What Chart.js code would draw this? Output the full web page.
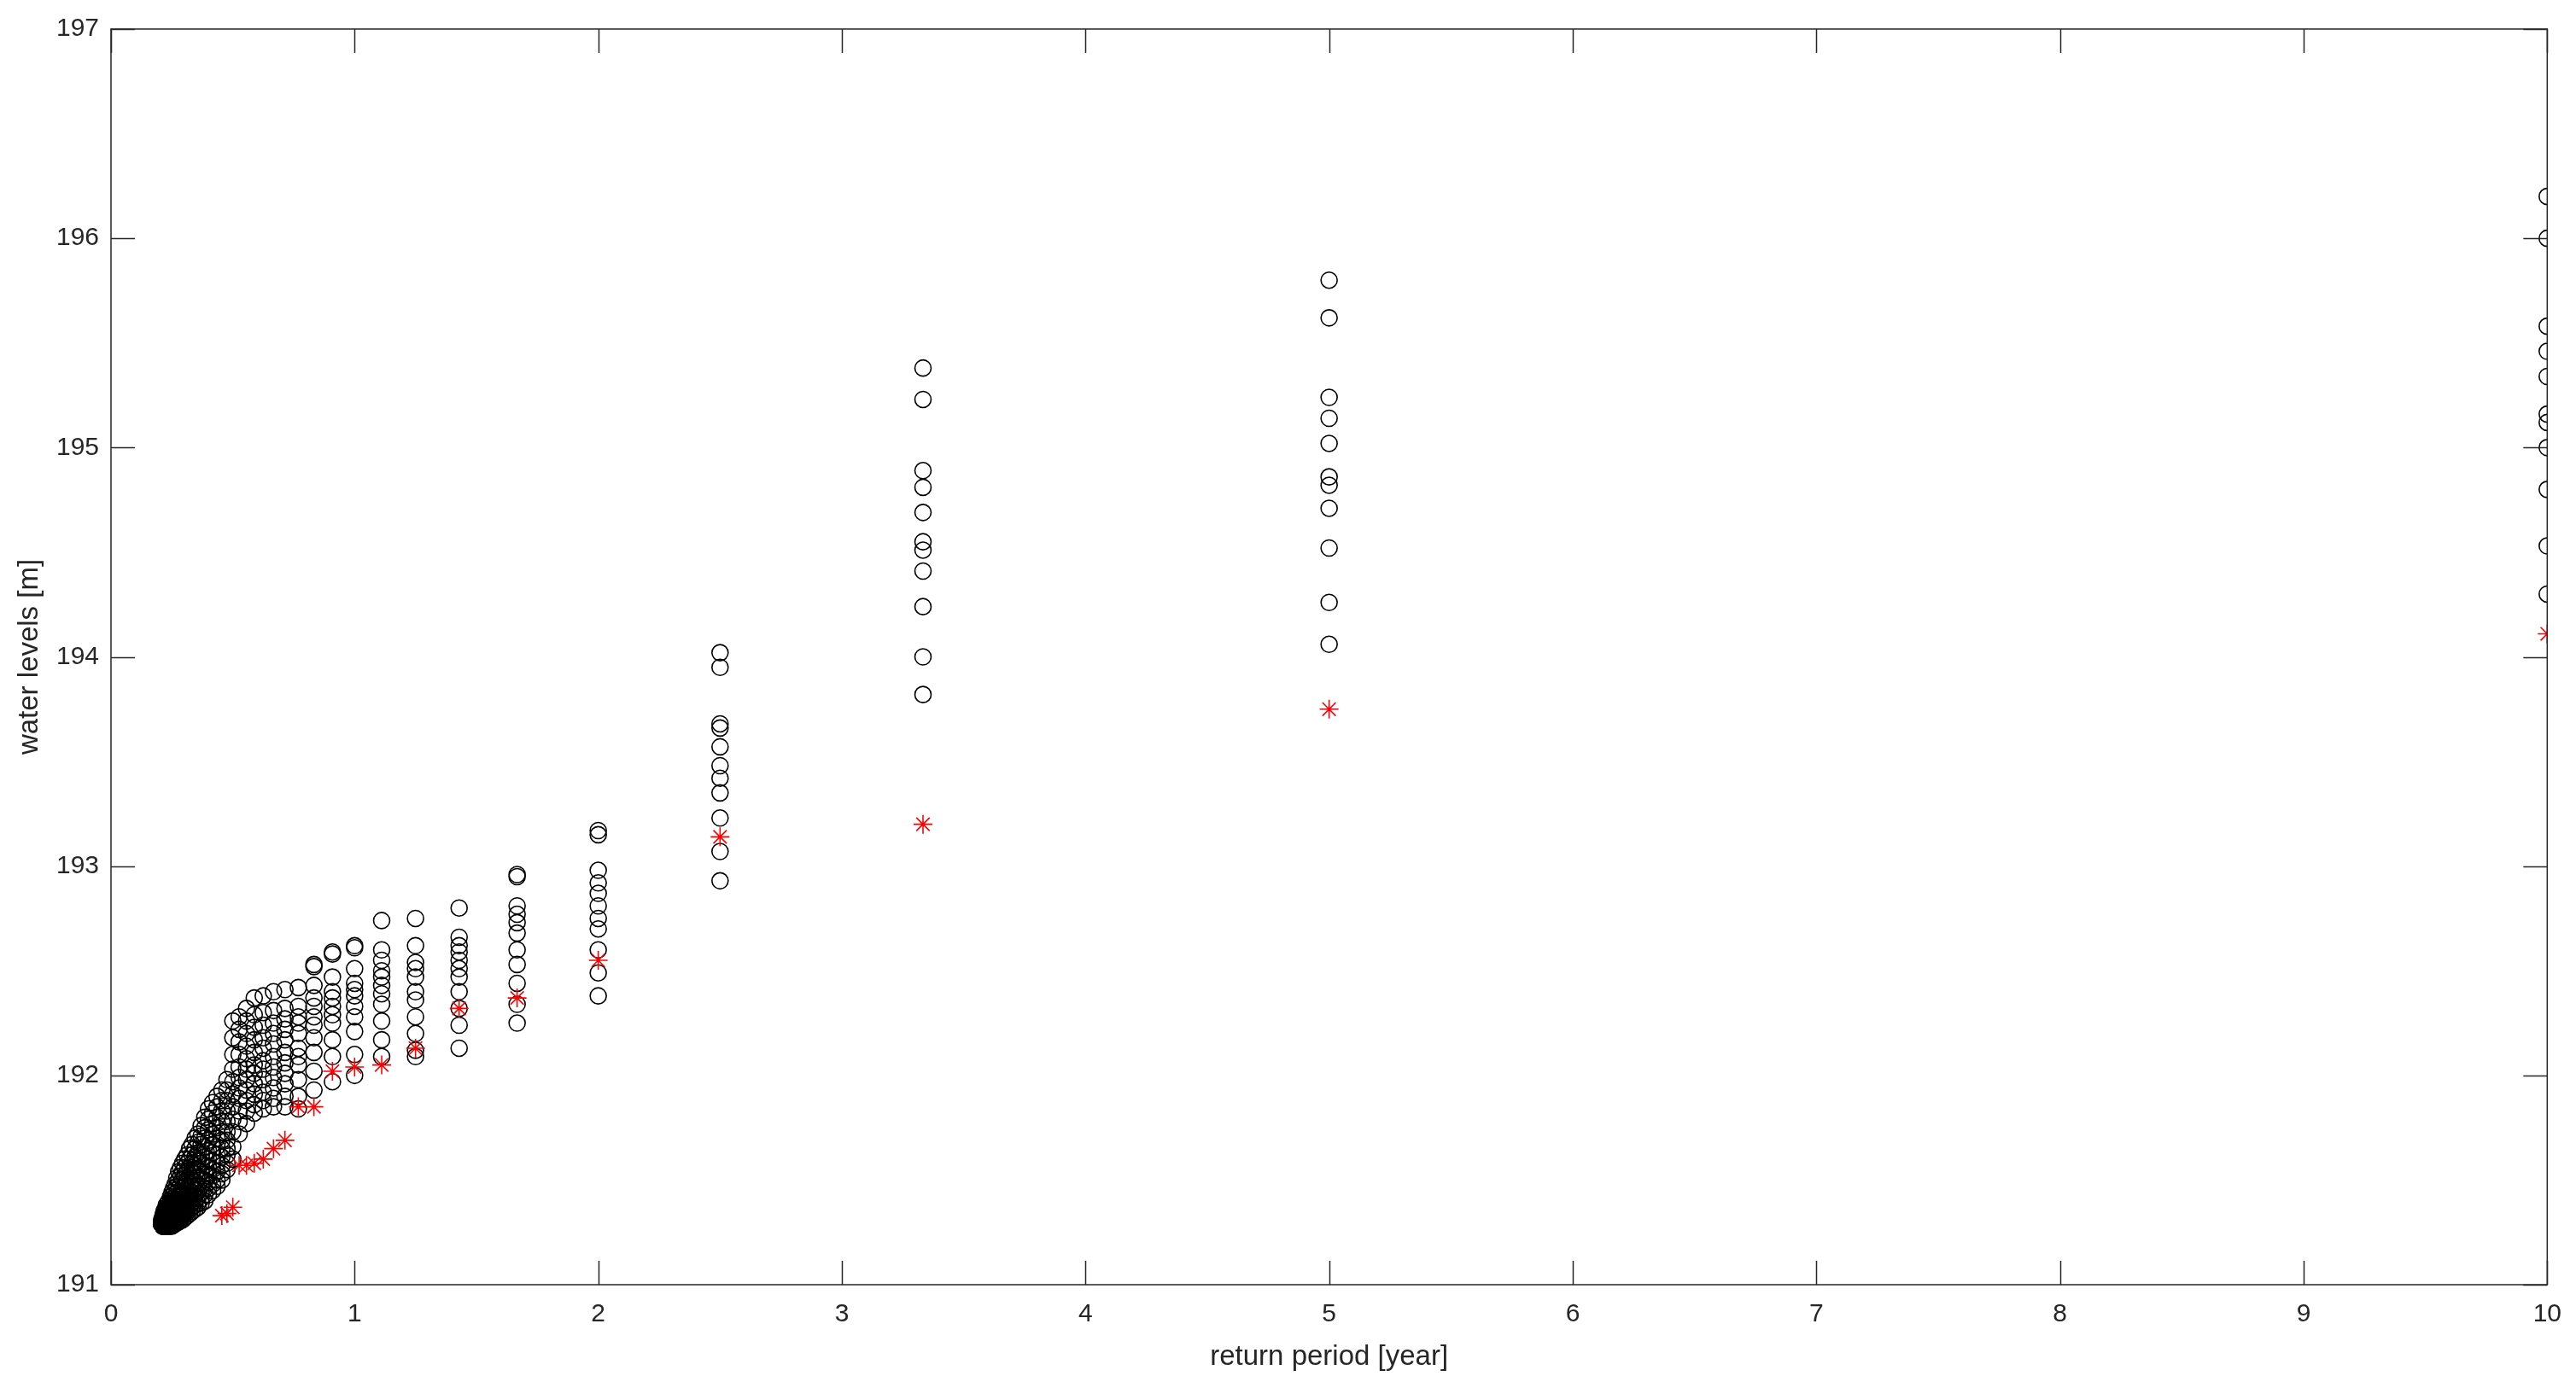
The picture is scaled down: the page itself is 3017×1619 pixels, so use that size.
<!DOCTYPE html>
<html>
<head>
<meta charset="utf-8">
<script src="https://cdn.jsdelivr.net/npm/chart.js@4.4.0/dist/chart.umd.min.js"></script>
<style>
  html, body { margin: 0; padding: 0; background: #fff; }
</style>
</head>
<body>
<canvas id="levelChart" width="3017" height="1619"></canvas>
<script>
// return periods [year], one column of markers each
const returnPeriods = [10, 5, 3.333, 2.5, 2, 1.667, 1.429, 1.25, 1.111, 1,
  0.909, 0.833, 0.769, 0.714, 0.667, 0.625, 0.588, 0.556, 0.526, 0.5,
  0.476, 0.455, 0.435, 0.417, 0.4, 0.385, 0.37, 0.357, 0.345, 0.333,
  0.323, 0.313, 0.303, 0.294, 0.286, 0.278, 0.27, 0.263, 0.256, 0.25,
  0.244, 0.238, 0.233, 0.227, 0.222, 0.217, 0.213, 0.208];

// simulated water levels [m] for every return period (black circles)
const simulatedLevels = [
  [196.20, 196.00, 195.58, 195.46, 195.34, 195.16, 195.12, 195.00, 194.80, 194.53, 194.30],
  [195.80, 195.62, 195.24, 195.14, 195.02, 194.86, 194.82, 194.71, 194.52, 194.26, 194.06],
  [195.38, 195.23, 194.89, 194.81, 194.69, 194.55, 194.51, 194.41, 194.24, 194.00, 193.82],
  [194.02, 193.95, 193.68, 193.66, 193.57, 193.48, 193.42, 193.35, 193.23, 193.07, 192.93],
  [193.17, 193.15, 192.98, 192.92, 192.87, 192.81, 192.75, 192.70, 192.60, 192.49, 192.38],
  [192.96, 192.95, 192.81, 192.77, 192.73, 192.68, 192.60, 192.53, 192.44, 192.34, 192.25],
  [192.80, 192.66, 192.62, 192.59, 192.55, 192.51, 192.47, 192.40, 192.32, 192.24, 192.13],
  [192.75, 192.62, 192.54, 192.51, 192.47, 192.40, 192.36, 192.28, 192.20, 192.12, 192.09],
  [192.74, 192.60, 192.55, 192.50, 192.47, 192.43, 192.39, 192.34, 192.26, 192.17, 192.09],
  [192.62, 192.61, 192.51, 192.44, 192.41, 192.38, 192.33, 192.28, 192.21, 192.10, 192.00],
  [192.59, 192.58, 192.47, 192.40, 192.37, 192.33, 192.29, 192.25, 192.17, 192.09, 191.97],
  [192.53, 192.52, 192.43, 192.37, 192.33, 192.28, 192.24, 192.18, 192.11, 192.02, 191.93],
  [192.42, 192.33, 192.28, 192.25, 192.20, 192.13, 192.09, 192.05, 191.98, 191.90, 191.84],
  [192.41, 192.32, 192.27, 192.22, 192.17, 192.11, 192.06, 192.01, 191.96, 191.90, 191.85],
  [192.40, 192.31, 192.25, 192.20, 192.15, 192.09, 192.04, 191.99, 191.94, 191.89, 191.85],
  [192.38, 192.30, 192.24, 192.18, 192.13, 192.07, 192.03, 191.98, 191.92, 191.88, 191.84],
  [192.37, 192.29, 192.23, 192.17, 192.11, 192.05, 192.01, 191.96, 191.91, 191.86, 191.82],
  [192.32, 192.26, 192.20, 192.14, 192.08, 192.03, 191.98, 191.93, 191.88, 191.83, 191.77],
  [192.28, 192.22, 192.16, 192.10, 192.04, 191.99, 191.94, 191.89, 191.83, 191.78, 191.72],
  [192.26, 192.18, 192.10, 192.03, 191.97, 191.91, 191.85, 191.79, 191.73, 191.66, 191.60],
  [191.98, 191.93, 191.88, 191.83, 191.78, 191.73, 191.69, 191.65, 191.62, 191.58, 191.55],
  [191.93, 191.88, 191.83, 191.78, 191.73, 191.69, 191.65, 191.61, 191.57, 191.53, 191.50],
  [191.90, 191.85, 191.80, 191.75, 191.70, 191.66, 191.62, 191.58, 191.54, 191.50, 191.47],
  [191.87, 191.82, 191.77, 191.72, 191.67, 191.63, 191.59, 191.55, 191.52, 191.48, 191.45],
  [191.84, 191.79, 191.74, 191.69, 191.64, 191.60, 191.56, 191.52, 191.49, 191.46, 191.43],
  [191.80, 191.75, 191.70, 191.66, 191.61, 191.57, 191.53, 191.50, 191.46, 191.43, 191.40],
  [191.76, 191.71, 191.67, 191.62, 191.58, 191.54, 191.50, 191.47, 191.44, 191.41, 191.39],
  [191.72, 191.68, 191.63, 191.59, 191.55, 191.51, 191.48, 191.45, 191.42, 191.39, 191.37],
  [191.70, 191.65, 191.61, 191.57, 191.53, 191.49, 191.46, 191.43, 191.40, 191.38, 191.36],
  [191.67, 191.62, 191.58, 191.54, 191.50, 191.47, 191.44, 191.41, 191.39, 191.37, 191.35],
  [191.65, 191.60, 191.56, 191.52, 191.48, 191.45, 191.42, 191.40, 191.38, 191.36, 191.34],
  [191.62, 191.58, 191.54, 191.50, 191.46, 191.43, 191.41, 191.38, 191.36, 191.35, 191.33],
  [191.60, 191.56, 191.52, 191.48, 191.45, 191.42, 191.39, 191.37, 191.35, 191.34, 191.32],
  [191.58, 191.54, 191.50, 191.46, 191.43, 191.40, 191.38, 191.36, 191.34, 191.33, 191.31],
  [191.56, 191.52, 191.48, 191.44, 191.41, 191.39, 191.37, 191.35, 191.33, 191.32, 191.31],
  [191.54, 191.50, 191.46, 191.42, 191.40, 191.37, 191.35, 191.34, 191.32, 191.31, 191.30],
  [191.51, 191.47, 191.44, 191.41, 191.38, 191.36, 191.34, 191.33, 191.32, 191.31, 191.30],
  [191.48, 191.45, 191.42, 191.39, 191.37, 191.35, 191.33, 191.32, 191.31, 191.30, 191.29],
  [191.46, 191.43, 191.40, 191.38, 191.36, 191.34, 191.32, 191.31, 191.30, 191.30, 191.29],
  [191.44, 191.41, 191.39, 191.36, 191.35, 191.33, 191.32, 191.31, 191.30, 191.29, 191.28],
  [191.42, 191.39, 191.37, 191.35, 191.34, 191.32, 191.31, 191.30, 191.29, 191.29, 191.28],
  [191.40, 191.38, 191.36, 191.34, 191.33, 191.31, 191.30, 191.30, 191.29, 191.28, 191.28],
  [191.39, 191.37, 191.35, 191.33, 191.32, 191.31, 191.30, 191.29, 191.29, 191.28, 191.28],
  [191.38, 191.36, 191.34, 191.32, 191.31, 191.30, 191.29, 191.29, 191.28, 191.28, 191.28],
  [191.36, 191.34, 191.33, 191.32, 191.31, 191.30, 191.29, 191.29, 191.28, 191.28, 191.28],
  [191.35, 191.33, 191.32, 191.31, 191.30, 191.30, 191.29, 191.29, 191.28, 191.28, 191.28],
  [191.33, 191.32, 191.31, 191.30, 191.30, 191.29, 191.29, 191.28, 191.28, 191.28, 191.28],
  [191.31, 191.30, 191.30, 191.30, 191.29, 191.29, 191.29, 191.29, 191.29, 191.29, 191.29],
];

// observed levels [m] (red stars), first 22 return periods
const observedLevels = [194.11, 193.75, 193.20, 193.14, 192.55, 192.37, 192.32, 192.13,
  192.05, 192.04, 192.02, 191.85, 191.85, 191.69, 191.65, 191.60, 191.58, 191.57,
  191.57, 191.37, 191.34, 191.33];

const xTicks = [0, 1, 2, 3, 4, 5, 6, 7, 8, 9, 10];
const yTicks = [191, 192, 193, 194, 195, 196, 197];

const axisColor = "#262626";
const fontFamily = "'Liberation Sans', Arial, Helvetica, sans-serif";

const circlePoints = [];
simulatedLevels.forEach((col, i) => {
  col.forEach(v => circlePoints.push({ x: returnPeriods[i], y: v }));
});
const starPoints = observedLevels.map((v, i) => ({ x: returnPeriods[i], y: v }));

// matlab style box with ticks pointing inward
const boxTicks = {
  id: "boxTicks",
  afterDraw(chart) {
    const { ctx, chartArea: a, scales } = chart;
    const len = 28;
    ctx.save();
    ctx.strokeStyle = axisColor;
    ctx.lineWidth = 1.5;
    ctx.beginPath();
    xTicks.forEach(t => {
      const px = Math.round(scales.x.getPixelForValue(t)) + 0.5;
      ctx.moveTo(px, a.bottom); ctx.lineTo(px, a.bottom - len);
      ctx.moveTo(px, a.top); ctx.lineTo(px, a.top + len);
    });
    yTicks.forEach(t => {
      const py = Math.round(scales.y.getPixelForValue(t)) + 0.5;
      ctx.moveTo(a.left, py); ctx.lineTo(a.left + len, py);
      ctx.moveTo(a.right, py); ctx.lineTo(a.right - len, py);
    });
    ctx.stroke();
    ctx.strokeRect(a.left, a.top, a.right - a.left, a.bottom - a.top);
    ctx.restore();
  }
};

new Chart(document.getElementById("levelChart"), {
  type: "scatter",
  data: {
    datasets: [
      {
        label: "observed",
        data: starPoints,
        pointStyle: "star",
        pointRadius: 11,
        borderColor: "rgb(255, 0, 0)",
        backgroundColor: "rgb(255, 0, 0)",
        borderWidth: 1.6,
      },
      {
        label: "simulated",
        data: circlePoints,
        pointStyle: "circle",
        pointRadius: 9.5,
        borderColor: "#000",
        backgroundColor: "rgba(0,0,0,0)",
        borderWidth: 1.6,
      },
    ],
  },
  options: {
    responsive: false,
    animation: false,
    devicePixelRatio: 1,
    layout: { padding: { top: 34, right: 32, left: 0, bottom: 0 } },
    plugins: { legend: { display: false }, tooltip: { enabled: false } },
    scales: {
      x: {
        type: "linear",
        min: 0,
        max: 10,
        afterBuildTicks: s => { s.ticks = xTicks.map(v => ({ value: v })); },
        afterFit: s => { s.height = 114; },
        grid: { display: false, drawTicks: false },
        border: { display: false },
        ticks: { color: axisColor, padding: 17, font: { family: fontFamily, size: 30 } },
        title: {
          display: true,
          text: "return period [year]",
          color: axisColor,
          font: { family: fontFamily, size: 33 },
          padding: { top: 0, bottom: 9 },
        },
      },
      y: {
        type: "linear",
        min: 191,
        max: 197,
        afterBuildTicks: s => { s.ticks = yTicks.map(v => ({ value: v })); },
        afterFit: s => { s.width = 130; },
        grid: { display: false, drawTicks: false },
        border: { display: false },
        ticks: { color: axisColor, padding: 14, font: { family: fontFamily, size: 30 } },
        title: {
          display: true,
          text: "water levels [m]",
          color: axisColor,
          font: { family: fontFamily, size: 33 },
          padding: { top: 15, bottom: 0 },
        },
      },
    },
  },
  plugins: [boxTicks],
});
</script>
</body>
</html>
